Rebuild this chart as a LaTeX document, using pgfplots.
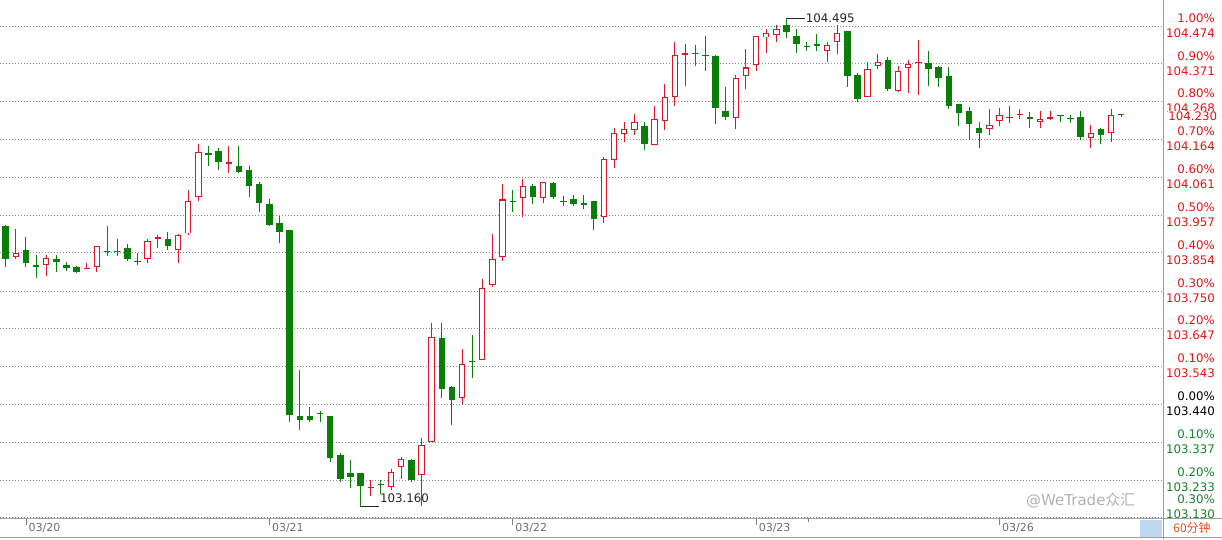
\documentclass[border=0pt]{standalone}
\usepackage{pgfplots}
\pgfplotsset{compat=1.18}
\usepackage{pgfplotstable}
\usepackage{fontspec}
\setmainfont{DejaVu Sans}
\newfontfamily\cjk{Noto Sans CJK SC}
\definecolor{cred}{RGB}{222,20,40}
\definecolor{cgreen}{RGB}{10,125,10}
\definecolor{lred}{RGB}{230,20,20}
\definecolor{lgreen}{RGB}{20,130,40}
\definecolor{dgray}{RGB}{110,110,110}
\definecolor{gridc}{RGB}{140,140,140}
\definecolor{boxblue}{RGB}{190,215,240}
\definecolor{orng}{RGB}{225,80,30}
\newcommand\lbl{\fontsize{11.8}{14}\selectfont}
\newcommand\dlbl{\fontsize{11}{13}\selectfont}

% up candles (close >= open): red hollow
\pgfplotstableread{
i O H L C
1 103.844 103.920 103.837 103.855
4 103.822 103.849 103.791 103.841
8 103.809 103.827 103.809 103.812
9 103.816 103.872 103.802 103.872
10 103.857 103.927 103.846 103.860
11 103.857 103.891 103.846 103.860
14 103.838 103.891 103.827 103.886
15 103.893 103.904 103.868 103.897
17 103.863 103.907 103.827 103.902
18 103.907 104.026 103.902 103.995
19 104.008 104.151 103.995 104.131
22 104.098 104.146 104.073 104.102
36 103.212 103.232 103.188 103.215
38 103.213 103.264 103.205 103.256
39 103.268 103.296 103.237 103.291
41 103.247 103.349 103.163 103.329
42 103.338 103.661 103.338 103.625
45 103.458 103.590 103.440 103.551
47 103.562 103.783 103.562 103.759
48 103.767 103.905 103.761 103.836
49 103.843 104.042 103.832 104.000
51 104.003 104.056 103.953 104.036
53 104.003 104.049 103.991 104.047
59 103.953 104.117 103.936 104.110
60 104.107 104.195 104.087 104.181
61 104.178 104.211 104.157 104.193
62 104.189 104.235 104.177 104.211
64 104.148 104.255 104.148 104.220
65 104.214 104.315 104.189 104.279
66 104.279 104.431 104.257 104.394
67 104.395 104.424 104.310 104.400
68 104.397 104.422 104.366 104.400
72 104.222 104.340 104.192 104.331
73 104.339 104.411 104.303 104.361
74 104.367 104.447 104.352 104.447
75 104.443 104.466 104.401 104.454
76 104.449 104.476 104.431 104.465
81 104.407 104.431 104.377 104.422
82 104.431 104.477 104.398 104.454
85 104.281 104.375 104.281 104.357
86 104.366 104.397 104.357 104.376
88 104.297 104.365 104.295 104.351
89 104.359 104.381 104.292 104.370
90 104.373 104.436 104.286 104.376
97 104.194 104.247 104.176 104.205
98 104.214 104.250 104.201 104.230
100 104.232 104.247 104.220 104.235
102 104.212 104.242 104.196 104.220
103 104.220 104.242 104.217 104.225
107 104.168 104.205 104.142 104.181
109 104.183 104.247 104.157 104.230
}\upc

% down candles (close < open): green filled
\pgfplotstableread{
i O H L C
0 103.927 103.930 103.815 103.837
2 103.861 103.897 103.816 103.827
3 103.820 103.849 103.786 103.816
5 103.836 103.849 103.802 103.828
6 103.820 103.829 103.804 103.814
7 103.815 103.819 103.798 103.803
12 103.866 103.879 103.832 103.837
13 103.832 103.855 103.820 103.829
16 103.891 103.910 103.863 103.873
20 104.126 104.147 104.091 104.122
21 104.132 104.140 104.080 104.103
23 104.091 104.146 104.073 104.075
24 104.080 104.091 104.006 104.037
25 104.042 104.049 103.965 103.991
26 103.987 104.000 103.927 103.929
27 103.935 103.956 103.882 103.911
28 103.916 103.916 103.391 103.410
29 103.408 103.535 103.371 103.398
30 103.408 103.433 103.391 103.398
31 103.416 103.421 103.391 103.413
32 103.408 103.408 103.282 103.294
33 103.302 103.307 103.227 103.235
34 103.252 103.287 103.212 103.241
35 103.252 103.252 103.160 103.216
37 103.221 103.234 103.194 103.218
40 103.287 103.291 103.227 103.234
43 103.620 103.661 103.457 103.483
44 103.488 103.490 103.382 103.452
46 103.559 103.630 103.512 103.556
50 103.995 104.026 103.965 103.992
52 104.036 104.042 103.988 104.008
54 104.044 104.047 104.001 104.008
55 103.995 104.009 103.983 103.992
56 104.001 104.012 103.983 103.988
57 103.990 104.011 103.973 103.984
58 103.995 103.995 103.916 103.947
63 104.201 104.211 104.135 104.152
69 104.395 104.448 104.352 104.392
70 104.392 104.395 104.207 104.251
71 104.242 104.308 104.218 104.226
77 104.476 104.495 104.442 104.457
78 104.447 104.465 104.401 104.426
79 104.421 104.430 104.407 104.418
80 104.425 104.452 104.407 104.420
83 104.461 104.461 104.308 104.338
84 104.340 104.347 104.267 104.276
87 104.381 104.390 104.297 104.302
91 104.372 104.407 104.310 104.357
92 104.363 104.365 104.308 104.333
93 104.338 104.361 104.248 104.255
94 104.261 104.261 104.201 104.237
95 104.242 104.254 104.164 104.207
96 104.195 104.212 104.141 104.182
99 104.226 104.255 104.208 104.223
101 104.225 104.239 104.196 104.219
104 104.231 104.231 104.212 104.228
105 104.223 104.231 104.208 104.220
106 104.225 104.242 104.164 104.171
108 104.193 104.195 104.153 104.177
110 104.233 104.233 104.225 104.230
}\downc

\newcommand\rlab[4]{%
  \node[anchor=east, inner sep=0pt, text=#4, font=\lbl, xshift=52pt, yshift=8pt] at (axis cs:114.13,#1) {#2};
  \node[anchor=east, inner sep=0pt, text=#4, font=\lbl, xshift=52pt, yshift=-7pt] at (axis cs:114.13,#1) {#3};}

\begin{document}
\begin{tikzpicture}
\useasboundingbox (0pt,-21pt) rectangle (1222pt,518pt);
\begin{axis}[
  at={(0pt,0pt)}, anchor=south west,
  scale only axis, width=1163pt, height=518pt,
  xmin=-0.562, xmax=114.13, ymin=103.129, ymax=104.5455,
  clip=false,
  axis line style={draw=none},
  ytick={103.130,103.233,103.337,103.440,103.543,103.647,103.750,103.854,103.957,104.061,104.164,104.268,104.371,104.474},
  yticklabels={}, ymajorgrids, ytick style={draw=none},
  grid style={draw=gridc, line width=0.8pt, dash pattern=on 1pt off 2pt},
  xtick={2,26,50,74,98}, xticklabels={}, xtick pos=lower, tick align=outside,
  major tick length=7pt,
  xtick style={draw=gray, line width=0.8pt},
]
% wicks
\addplot[draw=cred, line width=1pt, quiver={u=0, v=\thisrow{H}-\thisrow{L}}]
  table[x=i, y=L] {\upc};
\addplot[draw=cgreen, line width=1pt, quiver={u=0, v=\thisrow{H}-\thisrow{L}}]
  table[x=i, y=L] {\downc};
% green bodies
\addplot[draw=cgreen, line width=6.4pt, quiver={u=0, v=\thisrow{O}-\thisrow{C}}]
  table[x=i, y=C] {\downc};
% red hollow bodies
\addplot[draw=cred, line width=6.4pt, quiver={u=0, v=\thisrow{C}-\thisrow{O}}]
  table[x=i, y=O] {\upc};
\addplot[draw=white, line width=4.4pt, quiver={u=0, v={max(\thisrow{C}-\thisrow{O}-0.0055,0)}}]
  table[x=i, y expr=\thisrow{O}+0.0027] {\upc};

% high / low annotations
\draw[black!85, line width=0.8pt] (axis cs:77,104.495) -- ++(18pt,0pt)
  node[anchor=west, inner sep=1pt, font=\lbl, text=black!85] {104.495};
\draw[black!85, line width=0.8pt] (axis cs:35,103.160) -- ++(18pt,0pt)
  node[anchor=south west, inner sep=1pt, yshift=2.5pt, font=\lbl, text=black!85] {103.160};

% right-hand labels
\rlab{104.474}{1.00\%}{104.474}{lred}
\rlab{104.371}{0.90\%}{104.371}{lred}
\rlab{104.268}{0.80\%}{104.268}{lred}
\rlab{104.164}{0.70\%}{104.164}{lred}
\rlab{104.061}{0.60\%}{104.061}{lred}
\rlab{103.957}{0.50\%}{103.957}{lred}
\rlab{103.854}{0.40\%}{103.854}{lred}
\rlab{103.750}{0.30\%}{103.750}{lred}
\rlab{103.647}{0.20\%}{103.647}{lred}
\rlab{103.543}{0.10\%}{103.543}{lred}
\rlab{103.440}{0.00\%}{103.440}{black}
\rlab{103.337}{0.10\%}{103.337}{lgreen}
\rlab{103.233}{0.20\%}{103.233}{lgreen}
\node[anchor=east, inner sep=0pt, text=lgreen, font=\lbl, xshift=52pt, yshift=18pt] at (axis cs:114.13,103.130) {0.30\%};
\node[anchor=east, inner sep=0pt, text=lgreen, font=\lbl, xshift=52pt, yshift=3pt] at (axis cs:114.13,103.130) {103.130};
\node[anchor=east, inner sep=0.6pt, fill=white, text=lred, font=\lbl, xshift=55pt, yshift=-0.8pt] at (axis cs:114.13,104.230) {104.230};

% date labels
\node[anchor=west, inner sep=0pt, font=\dlbl, text=dgray, xshift=2.5pt, yshift=-9.5pt] at (axis cs:2,103.129) {03/20};
\node[anchor=west, inner sep=0pt, font=\dlbl, text=dgray, xshift=2.5pt, yshift=-9.5pt] at (axis cs:26,103.129) {03/21};
\node[anchor=west, inner sep=0pt, font=\dlbl, text=dgray, xshift=2.5pt, yshift=-9.5pt] at (axis cs:50,103.129) {03/22};
\node[anchor=west, inner sep=0pt, font=\dlbl, text=dgray, xshift=2.5pt, yshift=-9.5pt] at (axis cs:74,103.129) {03/23};
\node[anchor=west, inner sep=0pt, font=\dlbl, text=dgray, xshift=2.5pt, yshift=-9.5pt] at (axis cs:98,103.129) {03/26};
\end{axis}

% frame pieces
\fill[white] (1163.6pt,-19pt) rectangle (1222pt,-0.4pt);
\draw[line width=0.8pt, gray!75] (0pt,0pt) -- (1222pt,0pt);
\draw[line width=0.9pt, gray!75] (0pt,-19.5pt) -- (1222pt,-19.5pt);
\draw[line width=0.9pt, gray!80] (1163pt,518pt) -- (1163pt,-21pt);
\draw[line width=0.8pt, gray] (808pt,0pt) -- (808pt,-4pt);
\fill[boxblue] (1140pt,-2pt) rectangle (1162pt,-19pt);
\node[font=\cjk\fontsize{12}{14}\selectfont, text=orng] at (1192pt,-10pt) {60分钟};
% watermark
\node[anchor=west, inner sep=0pt, font=\fontsize{15}{15}\selectfont, text=black!30] at (1026pt,18pt) {@WeTrade{\cjk 众汇}};
\end{tikzpicture}
\end{document}
